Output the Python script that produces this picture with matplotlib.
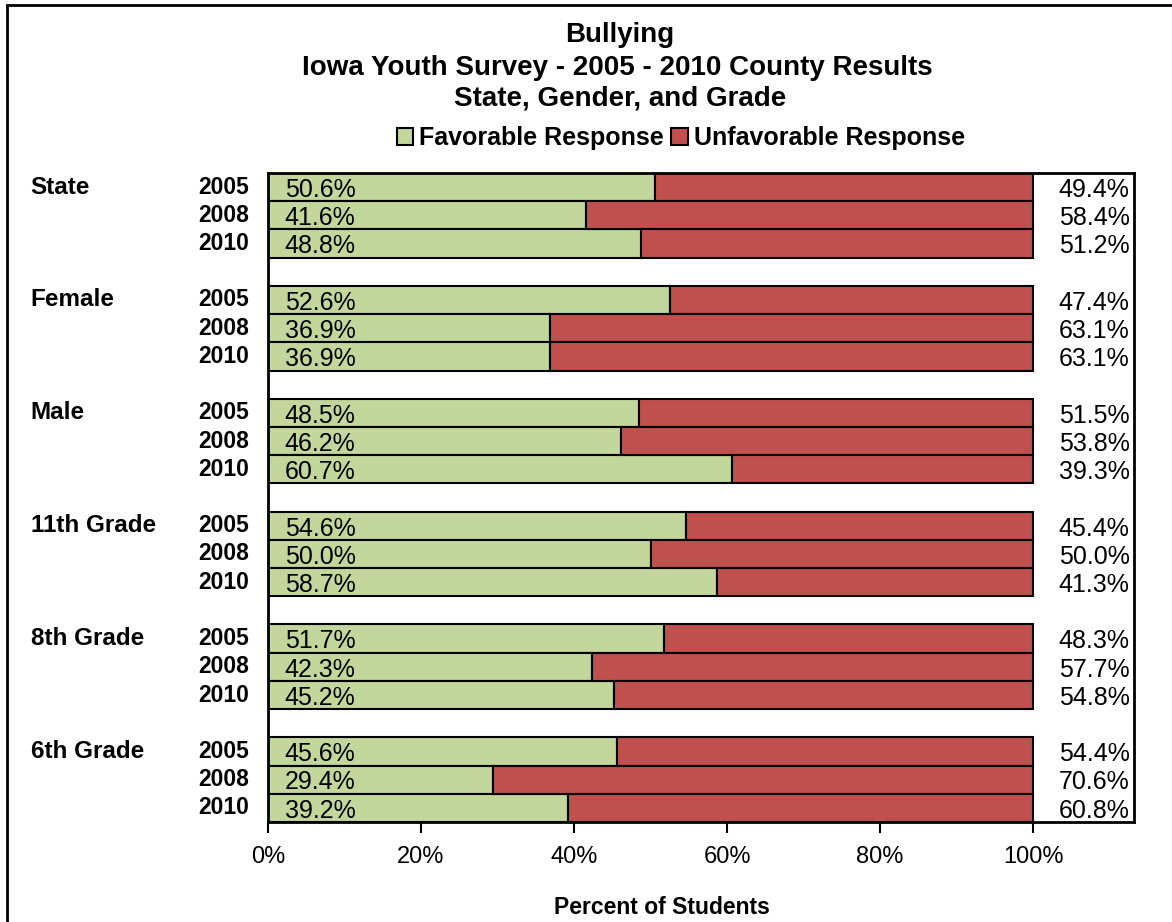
import numpy as np
import matplotlib.pyplot as plt
from matplotlib.patches import Rectangle

plt.rcParams['font.family'] = ['Liberation Sans', 'DejaVu Sans']

groups = ['State', 'Female', 'Male', '11th Grade', '8th Grade', '6th Grade']
years = ['2005', '2008', '2010']
favorable = [50.6, 41.6, 48.8,
             52.6, 36.9, 36.9,
             48.5, 46.2, 60.7,
             54.6, 50.0, 58.7,
             51.7, 42.3, 45.2,
             45.6, 29.4, 39.2]
unfavorable = [49.4, 58.4, 51.2,
               47.4, 63.1, 63.1,
               51.5, 53.8, 39.3,
               45.4, 50.0, 41.3,
               48.3, 57.7, 54.8,
               54.4, 70.6, 60.8]
xticks = [0, 20, 40, 60, 80, 100]

green = '#C3D69B'
red = '#C0504D'

fig = plt.figure(figsize=(11.72, 9.22), dpi=100)
ax = fig.add_axes([268 / 1172, 1 - 822 / 922, (1134 - 268) / 1172, (822 - 173) / 922])

# row positions: 3 bars per group, one empty slot between groups
ypos = []
for g in range(len(groups)):
    for k in range(len(years)):
        ypos.append(g * 4 + k)
ypos = np.array(ypos)

ax.barh(ypos, favorable, height=1.0, color=green, edgecolor='black', linewidth=1.5,
        label='Favorable Response')
ax.barh(ypos, unfavorable, left=favorable, height=1.0, color=red, edgecolor='black',
        linewidth=1.5, label='Unfavorable Response')

for y, f, u in zip(ypos, favorable, unfavorable):
    ax.text(2.2, y + 0.1, f'{f:.1f}%', ha='left', va='center', fontsize=18)
    ax.text(112.6, y + 0.1, f'{u:.1f}%', ha='right', va='center', fontsize=18)

trans = ax.get_yaxis_transform()
for g, name in enumerate(groups):
    ax.text(-0.274, g * 4, name, transform=trans, ha='left', va='center',
            fontsize=17.5, fontweight='bold')
    for k, yr in enumerate(years):
        ax.text(-0.022, g * 4 + k, yr, transform=trans, ha='right', va='center',
                fontsize=16.5, fontweight='bold')

ax.set_ylim(len(groups) * 4 - 1.5, -0.5)
ax.set_xlim(0, 113.2)
ax.set_yticks([])
ax.set_xticks(xticks)
ax.set_xticklabels([f'{t}%' for t in xticks], fontsize=17)
ax.tick_params(axis='x', length=8, width=1.5, pad=9)
for s in ax.spines.values():
    s.set_linewidth(2)

fig.text(662 / 1172, 1 - 907 / 922, 'Percent of Students', ha='center', va='center',
         fontsize=16.5, fontweight='bold')

fig.text(0.529, 1 - 35 / 922, 'Bullying', ha='center', va='center',
         fontsize=20, fontweight='bold')
fig.text(0.527, 1 - 68 / 922, 'Iowa Youth Survey - 2005 - 2010 County Results',
         ha='center', va='center', fontsize=20, fontweight='bold')
fig.text(0.529, 1 - 99 / 922, 'State, Gender, and Grade', ha='center', va='center',
         fontsize=20, fontweight='bold')

fig.legend(loc='center', bbox_to_anchor=(0.581, 1 - 138 / 922), ncol=2, frameon=False,
           prop={'size': 18, 'weight': 'bold'}, handlelength=0.65, handleheight=0.65,
           handletextpad=0.25, columnspacing=0.3)

fig.patches.append(Rectangle((7 / 1172, -0.05), 1.1, 0.05 + 1 - 5 / 922,
                             transform=fig.transFigure, fill=False,
                             edgecolor='black', linewidth=2))

fig.savefig('out.png', dpi=100)
